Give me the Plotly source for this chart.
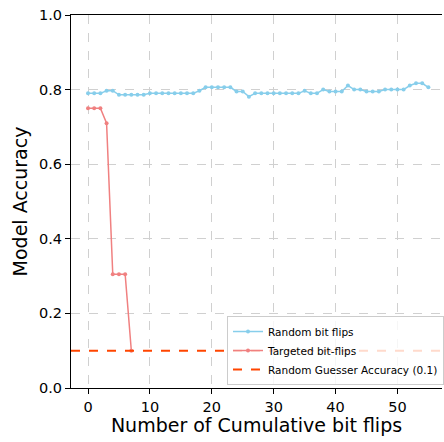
import plotly.graph_objects as go

x_random = list(range(56))
random_acc = [0.790, 0.790, 0.790, 0.797, 0.797, 0.786, 0.786, 0.786, 0.786, 0.786,
              0.790, 0.790, 0.790, 0.790, 0.790, 0.790, 0.790, 0.790, 0.797, 0.806,
              0.806, 0.806, 0.806, 0.806, 0.795, 0.795, 0.781, 0.790, 0.790, 0.790,
              0.790, 0.790, 0.790, 0.790, 0.790, 0.797, 0.790, 0.790, 0.800, 0.795,
              0.795, 0.795, 0.811, 0.800, 0.800, 0.795, 0.795, 0.795, 0.800, 0.800,
              0.800, 0.800, 0.811, 0.817, 0.817, 0.806]
x_targeted = list(range(8))
targeted_acc = [0.75, 0.75, 0.75, 0.71, 0.305, 0.305, 0.305, 0.10]
guesser_acc = 0.1
x_ticks = [0, 10, 20, 30, 40, 50]
y_ticks = [0.0, 0.2, 0.4, 0.6, 0.8, 1.0]

fig = go.Figure()
fig.add_trace(go.Scatter(x=x_random, y=random_acc, mode="lines+markers",
                         name="Random bit flips",
                         line=dict(color="#87CEEB", width=1.5),
                         marker=dict(color="#87CEEB", size=4)))
fig.add_trace(go.Scatter(x=x_targeted, y=targeted_acc, mode="lines+markers",
                         name="Targeted bit-flips",
                         line=dict(color="#F08080", width=1.5),
                         marker=dict(color="#F08080", size=4)))
fig.add_trace(go.Scatter(x=[-2.75, 57.75], y=[guesser_acc, guesser_acc], mode="lines",
                         name="Random Guesser Accuracy (0.1)",
                         line=dict(color="#FF4500", width=2, dash="dash")))

fig.update_layout(
    width=444, height=442,
    margin=dict(l=71, r=0, t=15, b=54),
    paper_bgcolor="white", plot_bgcolor="white",
    font=dict(family="DejaVu Sans", color="black"),
    showlegend=True,
    legend=dict(x=0.421, y=0.008, xanchor="left", yanchor="bottom",
                bgcolor="rgba(255,255,255,0.8)", bordercolor="#cccccc", borderwidth=1,
                font=dict(size=10.5), tracegroupgap=0, itemwidth=30),
    xaxis=dict(range=[-2.75, 57.2], tickvals=x_ticks, ticktext=[str(v) for v in x_ticks],
               showline=True, linecolor="black", linewidth=1.2, mirror=True,
               ticks="outside", ticklen=5, tickcolor="black", tickfont=dict(size=14.5),
               showgrid=True, gridcolor="#d0d0d0", griddash="dash", zeroline=False,
               title=dict(text="Number of Cumulative bit flips", font=dict(size=19), standoff=4)),
    yaxis=dict(range=[0, 1.0], tickvals=y_ticks, ticktext=[f"{v:.1f}" for v in y_ticks],
               showline=True, linecolor="black", linewidth=1.2, mirror=False,
               ticks="outside", ticklen=5, tickcolor="black", tickfont=dict(size=14.5),
               showgrid=True, gridcolor="#d0d0d0", griddash="dash", zeroline=False,
               title=dict(text="Model Accuracy", font=dict(size=19), standoff=6)),
)

fig.write_html("out.html")
